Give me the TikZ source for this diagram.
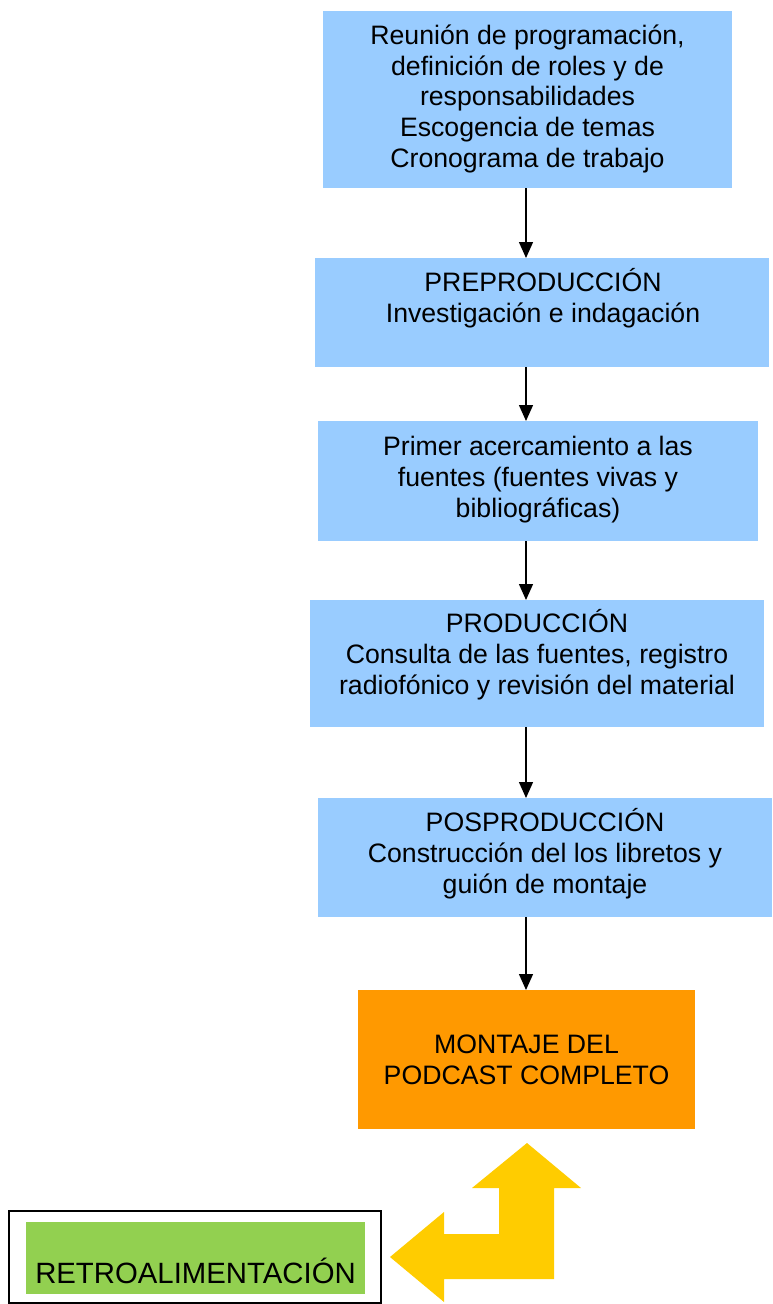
\documentclass[tikz,border=0pt]{standalone}
\usepackage{fontspec}
\setmainfont{Liberation Sans}
\usetikzlibrary{arrows.meta}
\definecolor{boxblue}{HTML}{99CCFF}
\definecolor{boxorange}{HTML}{FF9900}
\definecolor{boxgreen}{HTML}{92D050}
\definecolor{arrowyellow}{HTML}{FFCC00}
\begin{document}
\begin{tikzpicture}[x=1pt,y=-1pt,
  blockbox/.style={fill=boxblue, draw=none, inner sep=0pt, outer sep=0pt, anchor=north west},
  orangebox/.style={fill=boxorange, draw=none, inner sep=0pt, outer sep=0pt, anchor=north west},
  greenbox/.style={fill=boxgreen, draw=none, inner sep=0pt, outer sep=0pt, anchor=north west},
  framebox/.style={draw=black, line width=1.5pt, inner sep=0pt, outer sep=0pt, anchor=north west},
  lbl/.style={inner sep=0pt, align=center, anchor=base, text=black,
              font=\fontsize{26.67}{30.6}\selectfont},
  biglbl/.style={inner sep=0pt, align=center, anchor=base, text=black,
              font=\fontsize{29.33}{33.7}\selectfont},
  flowarrow/.style={draw=black, line width=1.4pt, -{Triangle[width=14pt,length=16pt]}}
]
\useasboundingbox (0,0) rectangle (772,1304);
\coordinate (ax) at (526,0);

% boxes
\node[blockbox, minimum width=409pt, minimum height=177pt] (b1) at (323,11) {};
\node[blockbox, minimum width=454pt, minimum height=109pt] (b2) at (315,258) {};
\node[blockbox, minimum width=440pt, minimum height=120pt] (b3) at (318,421) {};
\node[blockbox, minimum width=454pt, minimum height=127pt] (b4) at (310,600) {};
\node[blockbox, minimum width=454pt, minimum height=119pt] (b5) at (318,798) {};
\node[orangebox, minimum width=337pt, minimum height=139pt] (b6) at (358,990) {};

% texts (anchor=base is the baseline of the last line)
\node[lbl] (t1) at (527.5,167) {Reunión de programación,\\definición de roles y de\\responsabilidades\\Escogencia de temas\\Cronograma de trabajo};
\node[lbl] (t2) at (543,322) {PREPRODUCCIÓN\\Investigación e indagación};
\node[lbl] (t3) at (538,517) {Primer acercamiento a las\\fuentes (fuentes vivas y\\bibliográficas)};
\node[lbl] (t4) at (537,694) {PRODUCCIÓN\\Consulta de las fuentes, registro\\radiofónico y revisión del material};
\node[lbl] (t5) at (545,893) {POSPRODUCCIÓN\\Construcción del los libretos y\\guión de montaje};
\node[lbl] (t6) at (526.5,1084) {MONTAJE DEL\\PODCAST COMPLETO};

% connectors
\draw[flowarrow] (b1.south -| ax) -- (b2.north -| ax);
\draw[flowarrow] (b2.south -| ax) -- (b3.north -| ax);
\draw[flowarrow] (b3.south -| ax) -- (b4.north -| ax);
\draw[flowarrow] (b4.south -| ax) -- (b5.north -| ax);
\draw[flowarrow] (b5.south -| ax) -- (b6.north -| ax);

% feedback box
\node[framebox, minimum width=372pt, minimum height=92pt] (rframe) at (9,1211) {};
\node[greenbox, minimum width=339pt, minimum height=72pt] (rgreen) at (26,1222) {};
\node[biglbl] (rtext) at (195.5,1283) {RETROALIMENTACIÓN};

% bent yellow arrow
\fill[arrowyellow] (527,1143) -- (581,1188) -- (554,1188) -- (554,1279) -- (444,1279)
  -- (444,1302) -- (390,1257) -- (444,1212) -- (444,1234) -- (499,1234)
  -- (499,1188) -- (472,1188) -- cycle;
\end{tikzpicture}
\end{document}
